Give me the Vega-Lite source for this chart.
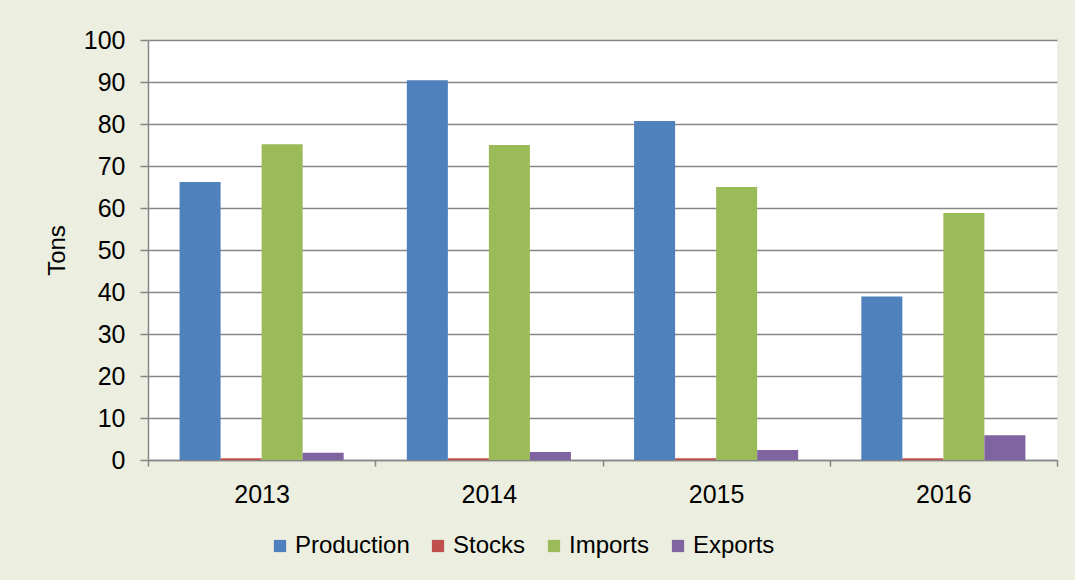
{
  "$schema": "https://vega.github.io/schema/vega-lite/v6.json",
  "width": 909,
  "height": 420,
  "autosize": "none",
  "padding": {"left": 148, "top": 40, "right": 18, "bottom": 120},
  "background": "#ECEEDF",
  "config": {
    "font": "Liberation Sans",
    "view": {"fill": "white", "stroke": null},
    "axis": {"labelFont": "Liberation Sans", "titleFont": "Liberation Sans", "labelColor": "#000", "titleColor": "#000", "domainColor": "#868686", "tickColor": "#868686", "gridColor": "#868686", "domainWidth": 1.5, "tickWidth": 1.5, "gridWidth": 1.5}
  },
  "data": {
    "values": [
      {"year": "2013", "series": "Production", "value": 66.2},
      {"year": "2013", "series": "Stocks", "value": 0.4},
      {"year": "2013", "series": "Imports", "value": 75.2},
      {"year": "2013", "series": "Exports", "value": 1.7},
      {"year": "2014", "series": "Production", "value": 90.4},
      {"year": "2014", "series": "Stocks", "value": 0.4},
      {"year": "2014", "series": "Imports", "value": 75.0},
      {"year": "2014", "series": "Exports", "value": 1.9},
      {"year": "2015", "series": "Production", "value": 80.7},
      {"year": "2015", "series": "Stocks", "value": 0.4},
      {"year": "2015", "series": "Imports", "value": 65.0},
      {"year": "2015", "series": "Exports", "value": 2.4},
      {"year": "2016", "series": "Production", "value": 38.9},
      {"year": "2016", "series": "Stocks", "value": 0.4},
      {"year": "2016", "series": "Imports", "value": 58.8},
      {"year": "2016", "series": "Exports", "value": 5.9}
    ]
  },
  "mark": {"type": "bar"},
  "encoding": {
    "x": {
      "field": "year", "type": "nominal",
      "scale": {"paddingInner": 0, "paddingOuter": 0},
      "axis": {"title": null, "labelAngle": 0, "labelFontSize": 25, "labelPadding": 16, "tickBand": "extent", "tickSize": 6, "grid": false}
    },
    "xOffset": {
      "field": "series", "type": "nominal",
      "sort": ["Production", "Stocks", "Imports", "Exports"],
      "scale": {"paddingInner": 0, "paddingOuter": 0.77}
    },
    "y": {
      "field": "value", "type": "quantitative",
      "scale": {"domain": [0, 100], "nice": false},
      "axis": {"title": "Tons", "titleFontSize": 24, "titleFontWeight": "normal", "labelFontSize": 25, "labelOverlap": false, "values": [0,10,20,30,40,50,60,70,80,90,100], "tickSize": 8, "labelPadding": 15, "titlePadding": 14}
    },
    "color": {
      "field": "series", "type": "nominal",
      "sort": ["Production", "Stocks", "Imports", "Exports"],
      "scale": {"domain": ["Production", "Stocks", "Imports", "Exports"], "range": ["#4F81BD", "#C0504D", "#9BBB59", "#8064A2"]},
      "legend": {"title": null, "orient": "none", "direction": "horizontal", "legendX": 120, "legendY": 494, "symbolType": "square", "symbolSize": 150, "symbolStrokeWidth": 0, "labelFontSize": 24, "labelColor": "#000", "labelOffset": 3, "columnPadding": 16, "symbolOpacity": 1}
    }
  }
}
